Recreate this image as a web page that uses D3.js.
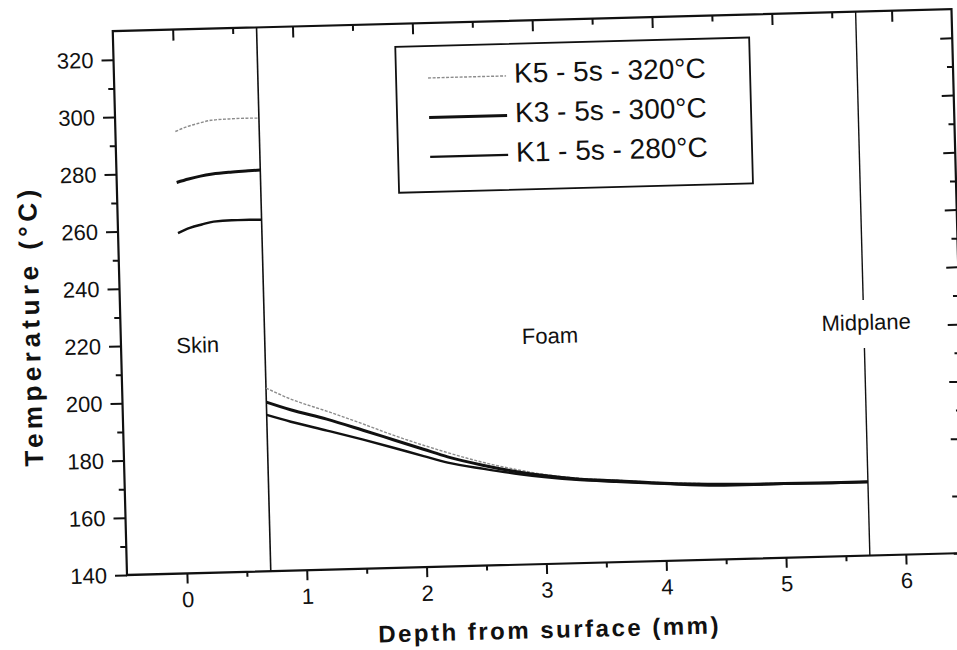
<!DOCTYPE html>
<html>
<head>
<meta charset="utf-8">
<script src="https://cdn.jsdelivr.net/npm/d3@7"></script>
<style>
  html, body { margin: 0; padding: 0; background: #fff; }
  svg text { font-family: "Liberation Sans", Arial, sans-serif; fill: #111; }
</style>
</head>
<body>
<div id="chart"></div>
<script>
// temperature profile through skin / foam, three runs

// ---------- data ----------
const seriesNames = ["K5 - 5s - 320°C", "K3 - 5s - 300°C", "K1 - 5s - 280°C"];

const depthSkin = [0.0, 0.1, 0.2, 0.3, 0.45, 0.6, 0.7];
const k5Skin = [294.4, 296.0, 297.1, 298.0, 298.3, 298.4, 298.3];
const k3Skin = [276.6, 277.7, 278.6, 279.2, 279.7, 280.0, 280.2];
const k1Skin = [258.9, 260.6, 261.7, 262.6, 262.9, 262.9, 262.8];

const depthFoam = [0.7, 0.9, 1.2, 1.5, 1.75, 2.0, 2.2, 2.5, 2.8, 3.0, 3.3, 3.6, 4.0, 4.5, 5.0, 5.4, 5.7];
const k5Foam = [204.0, 200.0, 195.4, 190.6, 186.4, 182.6, 179.8, 176.0, 173.0, 171.3, 169.6, 168.6, 167.3, 166.4, 166.0, 165.8, 165.8];
const k3Foam = [199.1, 196.2, 192.6, 188.4, 184.8, 181.2, 178.3, 175.0, 172.3, 170.9, 169.3, 168.4, 167.1, 166.2, 165.9, 165.8, 165.8];
const k1Foam = [194.6, 192.0, 188.6, 185.1, 182.0, 178.8, 176.3, 173.8, 171.6, 170.4, 169.0, 168.1, 166.9, 165.8, 165.8, 165.7, 165.7];

const xTicks = [0, 1, 2, 3, 4, 5, 6];
const xMinorTicks = [0.5, 1.5, 2.5, 3.5, 4.5, 5.5];
const yTicks = [140, 160, 180, 200, 220, 240, 260, 280, 300, 320];
const yMinorTicks = [150, 170, 190, 210, 230, 250, 270, 290, 310];

const boundaries = [0.7, 5.7];               // skin/foam, midplane
const regionNames = ["Skin", "Foam", "Midplane"];
const regionX = [0.14, 3.08, 5.72];
const regionY = [217, 217, 218.8];

// ---------- layout ----------
const width = 957, height = 650;
const plotLeft = 127, plotBottom = 575, plotW = 839, plotH = 544;
const plotTop = plotBottom - plotH;
const tilt = -1.5; // the scanned page is slightly rotated

const svg = d3.select("#chart").append("svg")
  .attr("width", width)
  .attr("height", height)
  .attr("viewBox", `0 0 ${width} ${height}`);

svg.append("rect").attr("width", width).attr("height", height).attr("fill", "#fff");

const g = svg.append("g")
  .attr("transform", `rotate(${tilt}, ${plotLeft}, ${plotBottom})`);

const x = d3.scaleLinear().domain([-0.5, 6.5]).range([plotLeft, plotLeft + plotW]);
const y = d3.scaleLinear().domain([140, 330]).range([plotBottom, plotTop]);

// ---------- axes ----------
function styleAxis(sel) {
  sel.select(".domain").remove();
  sel.selectAll(".tick line").attr("stroke", "#111").attr("stroke-width", 2);
  sel.selectAll(".tick text").attr("font-size", "22px").attr("fill", "#111");
}

g.append("g").attr("transform", `translate(0,${plotBottom})`)
  .call(d3.axisBottom(x).tickValues(xTicks).tickSize(10).tickPadding(8).tickFormat(d3.format("d")))
  .call(styleAxis);
g.append("g").attr("transform", `translate(0,${plotBottom})`)
  .call(d3.axisBottom(x).tickValues(xMinorTicks).tickSize(5).tickFormat(""))
  .call(styleAxis);

g.append("g").attr("transform", `translate(0,${plotTop})`)
  .call(d3.axisTop(x).tickValues(xTicks).tickSize(-11).tickFormat(""))
  .call(styleAxis);
g.append("g").attr("transform", `translate(0,${plotTop})`)
  .call(d3.axisTop(x).tickValues(xMinorTicks).tickSize(-6).tickFormat(""))
  .call(styleAxis);

g.append("g").attr("transform", `translate(${plotLeft},0)`)
  .call(d3.axisLeft(y).tickValues(yTicks).tickSize(12).tickPadding(8).tickFormat(d3.format("d")))
  .call(styleAxis);
g.append("g").attr("transform", `translate(${plotLeft},0)`)
  .call(d3.axisLeft(y).tickValues(yMinorTicks).tickSize(6).tickFormat(""))
  .call(styleAxis);

g.append("g").attr("transform", `translate(${plotLeft + plotW},0)`)
  .call(d3.axisRight(y).tickValues(yTicks).tickSize(-12).tickFormat(""))
  .call(styleAxis);
g.append("g").attr("transform", `translate(${plotLeft + plotW},0)`)
  .call(d3.axisRight(y).tickValues(yMinorTicks).tickSize(-6).tickFormat(""))
  .call(styleAxis);

// frame
g.append("rect")
  .attr("x", plotLeft).attr("y", plotTop)
  .attr("width", plotW).attr("height", plotH)
  .attr("fill", "none").attr("stroke", "#111").attr("stroke-width", 2.2);

// ---------- region boundaries ----------
// skin / foam: full height
g.append("line")
  .attr("x1", x(boundaries[0])).attr("x2", x(boundaries[0]))
  .attr("y1", y(140)).attr("y2", y(330))
  .attr("stroke", "#111").attr("stroke-width", 1.6);

// midplane: broken around its label
[[140, 212.5], [229.3, 330]].forEach(([a, b]) => {
  g.append("line")
    .attr("x1", x(boundaries[1])).attr("x2", x(boundaries[1]))
    .attr("y1", y(a)).attr("y2", y(b))
    .attr("stroke", "#111").attr("stroke-width", 1.4);
});

regionNames.forEach((name, i) => {
  g.append("text")
    .attr("x", x(regionX[i]))
    .attr("y", y(regionY[i]))
    .attr("text-anchor", "middle")
    .attr("font-size", "22px")
    .text(name);
});

// ---------- curves ----------
const seriesStyle = [
  { stroke: "#8c8c8c", width: 1.4, dash: "3,1.5" },
  { stroke: "#111", width: 3, dash: null },
  { stroke: "#111", width: 2.4, dash: null }
];

const skinValues = [k5Skin, k3Skin, k1Skin];
const foamValues = [k5Foam, k3Foam, k1Foam];

const line = d3.line()
  .x(d => x(d[0]))
  .y(d => y(d[1]))
  .curve(d3.curveMonotoneX);

seriesNames.forEach((name, i) => {
  const st = seriesStyle[i];
  const parts = [
    depthSkin.map((d, j) => [d, skinValues[i][j]]),
    depthFoam.map((d, j) => [d, foamValues[i][j]])
  ];
  parts.forEach(pts => {
    g.append("path")
      .datum(pts)
      .attr("d", line)
      .attr("fill", "none")
      .attr("stroke", st.stroke)
      .attr("stroke-width", st.width)
      .attr("stroke-dasharray", st.dash)
      .attr("stroke-linejoin", "round");
  });
});

// ---------- legend ----------
const legend = g.append("g").attr("transform", `translate(409,54)`);
legend.append("rect")
  .attr("width", 354).attr("height", 146)
  .attr("fill", "#fff").attr("stroke", "#111").attr("stroke-width", 1.8);

seriesNames.forEach((name, i) => {
  const st = seriesStyle[i];
  const by = 39 + i * 39.5;
  legend.append("line")
    .attr("x1", 32).attr("x2", 110)
    .attr("y1", by - 7).attr("y2", by - 7)
    .attr("stroke", st.stroke)
    .attr("stroke-width", st.width)
    .attr("stroke-dasharray", st.dash);
  legend.append("text")
    .attr("x", 118).attr("y", by)
    .attr("font-size", "28px")
    .text(name);
});

// ---------- axis titles ----------
g.append("text")
  .attr("x", 548).attr("y", 649)
  .attr("text-anchor", "middle")
  .attr("font-size", "24px")
  .attr("font-weight", "bold")
  .attr("letter-spacing", "2.5px")
  .text("Depth from surface (mm)");

g.append("text")
  .attr("transform", `translate(46,323.5) rotate(-90)`)
  .attr("text-anchor", "middle")
  .attr("font-size", "26px")
  .attr("font-weight", "bold")
  .attr("letter-spacing", "4.5px")
  .text("Temperature (°C)");
</script>
</body>
</html>
